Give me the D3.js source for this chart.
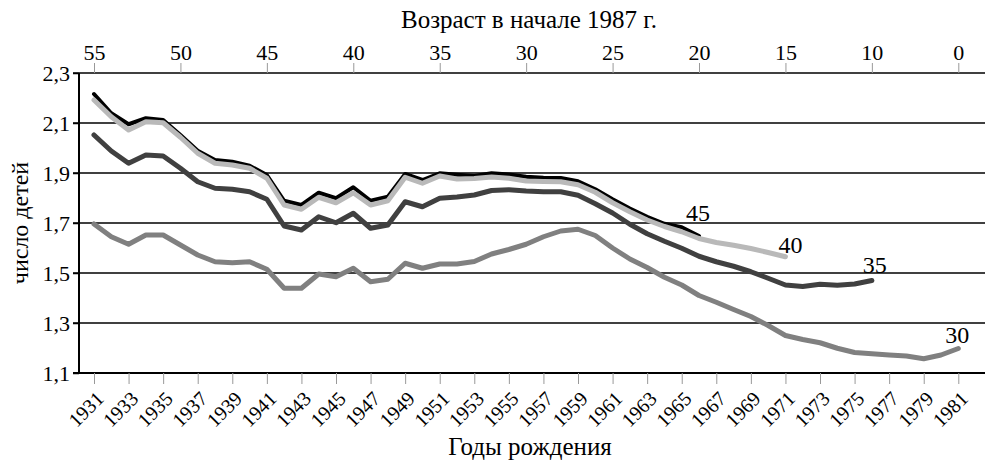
<!DOCTYPE html>
<html><head><meta charset="utf-8">
<script src="https://cdn.jsdelivr.net/npm/d3@7"></script>
<style>
body{margin:0;background:#fff}
text{font-family:"Liberation Serif","Times New Roman","DejaVu Serif",serif;fill:#000}
</style>
</head><body>
<svg id="c" width="985" height="462"></svg>
<script>
// ---------- data ----------
const years = d3.range(1931, 1982);
const yearTicks = [1931,1933,1935,1937,1939,1941,1943,1945,1947,1949,1951,1953,1955,1957,1959,1961,1963,1965,1967,1969,1971,1973,1975,1977,1979,1981];
const ageTickYears = [1931,1936,1941,1946,1951,1956,1961,1966,1971,1976,1981];
const ageLabels = ["55","50","45","40","35","30","25","20","15","10","0"];
const valueTicks = [1.1,1.3,1.5,1.7,1.9,2.1,2.3];
const seriesNames = ["45","40","35","30"];

const s45 = [2.216,2.139,2.095,2.119,2.112,2.052,1.989,1.952,1.945,1.929,1.892,
  1.789,1.772,1.821,1.799,1.843,1.789,1.805,1.896,1.872,1.899,
  1.893,1.888,1.899,1.894,1.885,1.881,1.880,1.867,1.835,1.795,1.758,1.725,1.697,1.683,1.648];
const s40 = [2.192,2.125,2.072,2.105,2.101,2.043,1.979,1.939,1.932,1.919,1.879,
  1.772,1.755,1.803,1.781,1.821,1.772,1.789,1.883,1.859,1.888,
  1.876,1.878,1.884,1.879,1.868,1.866,1.865,1.853,1.823,1.781,1.745,1.712,1.686,1.665,1.638,
  1.622,1.611,1.598,1.582,1.565];
const s35 = [2.052,1.988,1.939,1.972,1.968,1.919,1.865,1.839,1.835,1.825,1.795,
  1.688,1.672,1.725,1.701,1.739,1.679,1.692,1.785,1.765,1.799,
  1.804,1.812,1.830,1.833,1.828,1.825,1.825,1.811,1.777,1.740,1.695,1.657,1.627,1.599,1.567,
  1.545,1.527,1.505,1.479,1.452,1.446,1.455,1.451,1.456,1.470];
const s30 = [1.696,1.645,1.615,1.652,1.652,1.612,1.572,1.545,1.541,1.545,1.515,
  1.439,1.439,1.496,1.485,1.519,1.465,1.475,1.539,1.519,1.536,
  1.536,1.546,1.576,1.594,1.615,1.645,1.668,1.675,1.650,1.600,1.556,1.522,1.483,1.452,1.410,
  1.383,1.354,1.326,1.290,1.250,1.234,1.221,1.199,1.182,1.177,1.172,1.168,1.157,1.172,1.198];

const seriesValues = [s45, s40, s35, s30];

// ---------- styling / layout ----------
const plotLeft = 79, plotRight = 985, plotTop = 73, plotBottom = 373;
const serif = '"Liberation Serif","Times New Roman","DejaVu Serif",serif';
const styles = {
  "45": {color:"#000000", width:4},
  "40": {color:"#b9b9b9", width:5},
  "35": {color:"#404040", width:5},
  "30": {color:"#808080", width:5}
};
const labelOffset = {"45":[-1,-15], "40":[5,-4], "35":[3,-8], "30":[-1,-6]};

const svg = d3.select("#c");
const x = d3.scaleLinear().domain([1931,1981]).range([94, 958.3]);
const y = d3.scaleLinear().domain([1.1,2.3]).range([plotBottom, plotTop]);

// gridlines
svg.append("g").selectAll("line").data(valueTicks).join("line")
  .attr("x1", plotLeft - 6).attr("x2", plotRight)
  .attr("y1", d => y(d)).attr("y2", d => y(d))
  .attr("stroke", "#000").attr("stroke-width", d => (d === 1.1 ? 2 : 1.5));

// left axis labels
const fmt = d => d3.format(".1f")(d).replace(".", ",");
const ax = svg.append("g").attr("transform", `translate(${plotLeft},0)`)
  .call(d3.axisLeft(y).tickValues(valueTicks).tickSize(6).tickPadding(3).tickFormat(fmt));
ax.attr("font-family", null);
ax.select(".domain").remove();
ax.selectAll(".tick line").attr("stroke", "#000").attr("stroke-width", 1.5);
ax.selectAll("text").attr("font-size", 22).attr("dy", "0.33em")
  .style("font-family", serif).attr("fill", "#000");

// vertical axis line
svg.append("line").attr("x1", plotLeft).attr("x2", plotLeft)
  .attr("y1", plotTop).attr("y2", plotBottom).attr("stroke", "#000").attr("stroke-width", 2);

// bottom axis
const bx = svg.append("g").attr("transform", `translate(0,${plotBottom})`)
  .call(d3.axisBottom(x).tickValues(yearTicks).tickSize(11).tickFormat(d3.format("d")));
bx.attr("font-family", null);
bx.select(".domain").remove();
bx.selectAll(".tick line").attr("stroke", "#999").attr("stroke-width", 1);
bx.selectAll("text").attr("font-size", 20).attr("text-anchor", "end")
  .attr("x", 0).attr("y", 0).attr("dy", 0)
  .attr("transform", "translate(10.5,27) rotate(-45)")
  .style("font-family", serif).attr("fill", "#000");

// top axis
const tx = svg.append("g").attr("transform", `translate(0,${plotTop})`)
  .call(d3.axisTop(x).tickValues(ageTickYears).tickSize(10).tickPadding(3)
    .tickFormat((d, i) => ageLabels[i]));
tx.attr("font-family", null);
tx.select(".domain").remove();
tx.selectAll(".tick line").attr("stroke", "#999").attr("stroke-width", 1);
tx.selectAll("text").attr("font-size", 22).style("font-family", serif).attr("fill", "#000");

// lines
const line = d3.line().x((d, i) => x(years[i])).y(d => y(d));
const lg = svg.append("g");
seriesNames.forEach((name, k) => {
  const vals = seriesValues[k];
  lg.append("path").datum(vals)
    .attr("d", line)
    .attr("fill", "none")
    .attr("stroke", styles[name].color)
    .attr("stroke-width", styles[name].width)
    .attr("stroke-linejoin", "round")
    .attr("stroke-linecap", "round");
  const li = vals.length - 1;
  svg.append("text")
    .attr("x", x(years[li]) + labelOffset[name][0])
    .attr("y", y(vals[li]) + labelOffset[name][1])
    .attr("text-anchor", "middle")
    .attr("font-size", 24)
    .text(name);
});

// titles
svg.append("text").attr("x", 529).attr("y", 28).attr("text-anchor", "middle")
  .attr("font-size", 25).text("Возраст в начале 1987 г.");
svg.append("text").attr("x", 530).attr("y", 455).attr("text-anchor", "middle")
  .attr("font-size", 25).text("Годы рождения");
svg.append("text").attr("transform", `translate(28,${(plotTop + plotBottom) / 2}) rotate(-90)`)
  .attr("text-anchor", "middle").attr("font-size", 24).text("число детей");
</script>
</body></html>
